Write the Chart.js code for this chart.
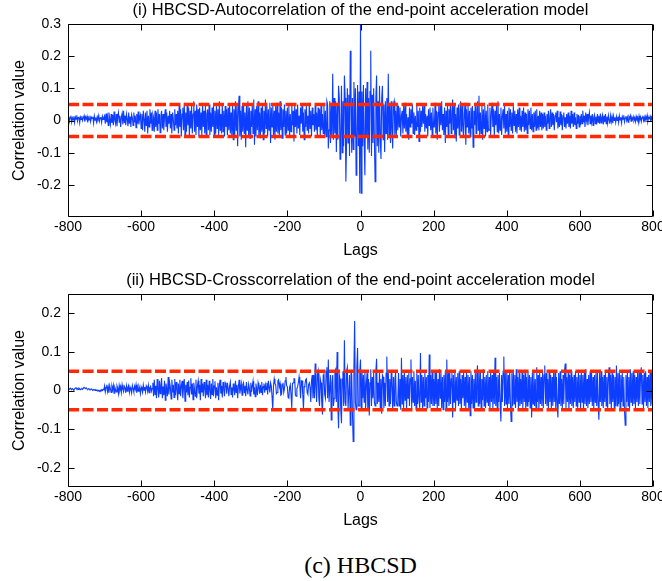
<!DOCTYPE html>
<html><head><meta charset="utf-8">
<script src="https://cdn.jsdelivr.net/npm/chart.js@4/dist/chart.umd.min.js"></script>
<style>
html,body{margin:0;padding:0;background:#fff;}
#wrap{position:relative;width:662px;height:581px;overflow:hidden;background:#fff;}
canvas{position:absolute;left:0;}
#c1{top:0}
#c2{top:270px}
#cap{position:absolute;left:68px;width:585px;top:550px;text-align:center;font-family:'Liberation Serif','Times New Roman',serif;font-size:24px;line-height:30px;color:#000;}
</style></head><body>
<div id="wrap">
<canvas id="c1" width="662" height="262"></canvas>
<canvas id="c2" width="662" height="262"></canvas>
<div id="cap">(c) HBCSD</div>
</div>
<script>
// ---- lags every 2 samples, -800..800 ----
const lags = [];
for (let l = -800; l <= 800; l += 2) lags.push(l);

// (i) autocorrelation
const autoCorr = [
// -800..-702
.006,.012,-.003,.01,.015,-.005,.008,.002,.013,-.006,
.011,.004,.016,-.002,.009,.012,-.007,.01,.003,.014,
0,.008,.015,-.004,.011,.005,.013,-.006,.009,.002,
.015,-.003,.01,.006,.012,-.008,.014,.001,.009,-.004,
.012,.005,.016,-.002,.008,.011,-.006,.013,.003,.01,
// -700..-602
.015,-.01,.022,-.005,.012,-.015,.025,.005,-.012,.02,
-.008,.018,-.015,.028,.002,-.01,.02,-.018,.012,.025,
-.005,.015,-.02,.01,.022,-.012,.03,-.008,.015,-.015,
.02,.005,-.018,.025,-.01,.012,-.02,.018,.008,-.015,
.025,-.005,.015,-.022,.02,-.01,.028,-.012,.01,.018,
// -600..-502
-.025,.02,-.03,.03,.005,-.035,.025,-.015,.03,-.04,
.015,-.02,.035,-.01,.025,-.03,.02,.01,-.035,.03,
-.02,.025,-.03,.035,-.01,.02,-.038,.015,.03,-.025,
.02,-.03,.01,.035,-.02,.025,-.035,.015,-.01,.03,
-.025,.02,-.04,.025,.005,-.03,.035,-.015,.02,-.025,
// -500..-352
.03,-.04,.045,-.02,.035,-.05,.02,.04,-.03,.055,
-.045,.025,-.035,.05,-.015,.04,-.05,.03,-.025,.045,
-.04,.02,.06,-.035,.03,-.045,.05,-.02,.035,-.05,
.04,-.03,.025,-.045,.055,-.02,.03,-.04,.045,-.05,
.02,.035,-.03,.05,-.045,.025,-.035,.04,-.02,.05,
-.05,.03,-.04,.045,-.025,.035,-.045,.06,-.03,.02,
-.04,.05,-.035,.03,-.05,.045,-.02,.035,-.045,.04,
-.03,.05,-.04,.025,-.045,
// -350..-202
.05,-.06,.035,-.045,.06,-.03,.05,-.08,.04,.077,
-.05,.03,-.06,.045,-.035,.055,-.04,.025,-.083,.05,
-.03,.06,-.045,.04,-.055,.03,-.02,.05,-.04,.065,
-.075,.035,-.05,.045,-.03,.06,-.045,.025,-.055,.04,
-.035,.05,-.06,.03,-.04,.065,-.025,.045,-.05,.035,
-.03,.055,-.07,.04,-.02,.05,-.045,.03,-.06,.045,
-.035,.055,-.04,.025,-.05,.06,-.03,.04,-.055,.035,
-.02,.05,-.045,.03,-.04,
// -200..-102
.04,-.03,.045,-.05,.02,-.035,.05,-.015,.03,-.065,
.045,-.02,.035,-.04,.05,-.025,.015,-.045,.04,-.01,
.05,-.035,.025,-.06,.035,-.02,.045,-.03,.015,-.04,
.055,-.025,.03,-.05,.04,-.015,.02,-.035,.045,-.03,
.025,-.05,.04,-.02,.035,-.045,.05,-.03,.02,-.04,
// -100..-2
.05,-.045,.03,-.05,.06,.05,-.087,-.03,.06,-.07,
.05,-.05,.145,-.06,.07,-.04,.06,-.098,.05,-.06,
.108,.07,-.12,-.05,.108,-.1,.06,-.08,.14,.07,
-.19,-.06,.1,-.07,.08,-.11,.217,.09,-.1,.07,
-.09,.12,-.05,.1,-.17,-.06,.11,-.08,.09,-.226,
// 0
.30,
// 2..100
-.226,.09,-.08,.11,-.06,-.17,.1,-.05,.12,-.09,
.07,-.1,.09,.217,-.11,.08,-.07,.1,-.06,-.19,
.07,.14,-.08,.06,-.1,.108,-.05,-.12,.07,.108,
-.06,.05,-.098,.06,-.04,.07,-.06,.145,-.05,.05,
-.07,.06,-.03,-.087,.05,.06,-.05,.03,-.045,.05,
// 102..200
-.03,.045,-.02,.04,-.05,.015,.03,-.04,.045,-.025,
.055,-.035,.02,-.045,.01,-.06,.04,-.02,.035,-.01,
.05,-.04,.025,-.045,.015,-.03,.048,-.02,.03,-.065,
.04,-.035,.03,-.02,.05,-.01,.045,-.035,.02,-.025,
.015,-.05,.035,-.015,.04,-.03,.025,-.045,.04,-.02,
// 202..350
-.02,.055,-.04,.03,-.06,.025,.045,-.035,.05,-.015,
.06,-.03,.02,-.045,.04,-.07,.03,-.02,.045,-.05,
.035,-.01,.05,-.04,.025,.065,-.03,.045,-.055,.02,
-.065,.04,-.025,.05,-.045,.03,.06,-.035,.045,-.03,
-.05,.02,.055,-.075,.035,-.02,.05,-.04,.03,-.05,
.04,-.025,.045,-.083,.03,-.015,.055,-.04,.035,.06,
-.03,.077,-.045,.025,-.04,.05,-.06,.035,-.025,.045,
-.05,.03,-.035,.05,-.03,
// 352..500
-.03,.04,-.045,.025,.055,-.02,.035,-.05,.03,-.015,
.045,-.035,.06,-.04,.02,-.03,.04,-.045,.015,.035,
-.025,.045,-.04,.02,-.035,.03,-.045,.04,-.02,.035,
-.03,.025,-.04,.045,-.015,.03,-.035,.02,-.04,.035,
-.02,.04,-.03,.015,-.035,.03,-.02,.04,-.035,.025,
-.03,.02,-.04,.035,-.015,.03,-.025,.04,-.03,.02,
-.035,.025,-.02,.03,-.03,.035,-.025,.015,-.03,.03,
-.02,.025,-.03,.02,-.025,
// 502..600
.025,-.02,.015,-.03,.02,-.01,.03,-.025,.01,.035,
-.02,.025,-.015,.02,-.03,.015,.025,-.005,.03,-.025,
.01,-.02,.028,-.015,.02,-.03,.015,.025,-.02,.01,
-.025,.02,-.01,.025,-.02,.015,-.025,.03,-.01,.02,
-.02,.025,-.015,.01,-.025,.02,-.01,.018,-.02,.015,
// 602..700
-.015,.02,-.01,.03,-.005,.015,-.02,.025,0,.02,
-.015,.01,.025,-.01,.015,-.005,.02,-.015,.01,.018,
-.01,.012,-.012,.02,-.005,.015,-.01,.022,-.008,.01,
.018,-.012,.015,-.005,.02,-.01,.012,-.008,.016,.002,
-.01,.015,-.004,.012,-.008,.014,0,.01,-.006,.012,
// 702..800
0,.012,-.006,.015,.002,.01,-.008,.012,.004,.016,
-.004,.008,.014,0,.01,-.005,.012,.006,.015,-.002,
.009,.003,.012,0,.008,-.004,.013,.005,.01,-.006,
.014,.002,.011,-.003,.009,.015,0,.01,-.005,.012,
.004,.016,-.002,.009,.006,.013,-.004,.01,.003,.008
];

// (ii) cross-correlation
const crossCorr = [
// -800..-702
.004,.005,.003,.006,.004,.002,.005,.003,.001,.004,
.006,.007,.004,.005,.003,.006,.004,.002,.004,.005,
.003,.006,.008,.006,.005,.007,.004,.003,.005,.004,
.002,.003,.004,.002,.001,.003,.002,0,.002,.001,
-.001,.001,0,-.002,.001,-.001,.002,0,.003,.002,
// -700..-570
.012,-.004,.008,.015,-.002,.01,-.006,.013,.004,-.005,
.011,.002,.014,-.007,.009,.003,-.004,.012,.006,-.008,
.013,.001,.01,-.005,.015,.004,-.003,.011,.007,-.006,
.012,-.002,.009,.014,-.005,.008,.002,-.007,.013,.005,
-.004,.011,.003,.015,-.006,.009,-.002,.012,.006,-.008,
.01,.003,-.005,.014,.001,.009,-.004,.012,.007,-.003,
.013,-.006,.008,.011,-.002,.005,
// -568..-370
.02,-.015,.028,-.01,.012,-.02,.03,.005,-.018,.025,
-.008,.015,.032,-.02,.01,-.012,.025,-.025,.018,.005,
-.015,.035,-.01,.02,.008,-.022,.028,-.005,.015,-.018,
.03,-.012,.022,.004,-.025,.018,-.008,.028,-.015,.012,
.025,-.02,.01,.03,-.028,.015,-.005,.022,-.012,.026,
-.018,.008,.032,-.01,.018,-.024,.02,.004,-.015,.028,
-.02,.012,.025,-.008,.015,-.025,.03,-.005,.018,-.015,
.022,.006,-.02,.028,-.012,.015,-.018,.025,.002,-.022,
.018,-.01,.03,-.015,.012,.024,-.02,.008,-.012,.02,
-.025,.015,.028,-.008,.012,-.018,.022,.005,-.015,.02,
// -368..-258
.015,-.008,.02,.005,-.015,.012,.022,-.01,.008,-.018,
.018,.004,-.012,.025,-.005,.015,-.02,.01,.028,-.008,
.005,.018,-.012,.015,.02,-.006,.012,-.015,.022,.002,
-.01,.016,.006,-.014,.02,-.004,.012,.024,-.01,.008,
-.016,.018,.004,-.012,.02,.01,-.008,.015,-.005,.022,
-.012,.01,.018,-.006,.014,.002,
// -256..-130
.02,-.01,.025,.008,-.005,.02,.012,-.015,-.05,.01,
.03,.018,.015,-.008,-.005,.025,.028,.01,.018,-.012,
-.01,.015,.02,-.005,.005,.025,.035,.012,.01,-.018,
-.02,.008,.015,-.01,-.045,.018,.02,.03,.03,-.012,
-.015,.005,.01,.02,.035,.015,-.02,.025,.025,-.01,
-.048,.01,.015,.028,.03,-.005,-.01,.015,.02,.008,
-.03,.025,.04,-.02,
// -128..-2
.04,-.02,.07,.01,-.03,.04,.05,-.02,-.04,.03,
.02,-.03,-.062,.04,.045,-.01,-.02,.05,.06,-.02,
.08,-.03,-.03,.04,-.076,.02,.04,-.04,-.02,.05,
.055,-.03,.1,-.04,-.098,.04,.03,-.05,-.085,.03,
.05,-.04,.13,-.03,-.04,.05,.06,-.05,-.05,.04,
-.09,.05,.04,-.06,-.132,.06,.18,-.03,-.05,.06,
.11,-.04,-.04,.05,
// 0..100
.08,-.045,.05,-.02,.04,-.03,.05,-.05,.02,.045,
-.05,.03,-.065,.02,.055,-.04,.035,-.02,.045,-.03,
-.04,.05,.082,-.035,.02,-.03,.05,-.045,.03,-.06,
.04,.035,-.045,.02,-.04,.045,.088,-.03,.05,-.04,
.03,-.035,.045,.02,-.05,.035,-.04,.03,.045,-.03,
-.04,
// 102..200
-.03,.045,-.04,.03,-.05,.085,-.035,.04,-.045,.05,
-.025,.035,-.05,.04,-.02,.045,-.04,.03,.08,-.045,
.035,-.03,.05,-.04,.025,-.05,.045,-.035,.04,-.025,
-.045,.097,-.03,.04,-.05,.035,-.04,.05,-.02,.035,
-.045,.04,-.03,.093,-.045,.04,-.035,.05,-.04,.03,
// 202..300
-.04,.05,-.035,.045,-.05,.03,-.04,.055,-.02,.045,
-.045,.035,-.05,.04,-.03,.05,-.045,.08,-.03,.045,
-.04,.05,-.035,.03,.045,-.07,.04,-.03,.05,-.045,
.035,-.025,.045,-.04,.05,-.035,.03,-.05,.04,-.02,
.045,-.04,.035,-.05,.05,-.03,.04,-.045,.035,-.065,
// 302..400
.05,-.035,.04,-.045,.03,-.05,.045,-.03,.04,.065,
-.04,.05,-.035,.045,-.05,.03,-.025,.055,-.04,.035,
-.045,.04,-.03,.05,-.04,.035,-.05,.045,-.03,.04,
-.045,.05,-.035,.085,-.04,.035,-.05,.04,-.03,.045,
-.035,-.08,.04,-.03,.05,.088,-.04,.045,-.035,.05,
// 402..500
-.045,.04,-.035,.05,-.03,-.08,.045,-.04,.05,-.035,
.04,-.045,.055,-.03,.035,-.05,.045,-.04,.03,-.035,
.05,-.045,.04,-.03,.045,-.05,.035,-.04,.05,-.03,
.04,-.045,.035,-.07,.045,-.035,.05,-.04,.03,-.045,
.06,-.03,.04,-.05,.045,-.035,.035,-.04,.05,-.045,
// 502..600
.04,.065,-.035,.045,-.04,.03,-.05,.05,-.03,.04,
-.045,.035,-.04,.045,-.03,.05,-.045,.035,-.04,-.07,
.045,-.035,.05,-.04,.03,-.045,.04,-.035,.05,.07,
-.045,.035,-.03,.045,-.05,.04,-.035,.05,-.04,.035,
-.045,.04,-.03,.05,-.04,.035,-.045,.045,-.03,.04,
// 602..700
-.045,.05,-.03,.04,-.05,.045,-.035,.055,-.04,.03,
-.045,.04,-.035,.05,-.03,.045,-.04,.035,-.05,.04,
-.03,.045,-.04,.05,-.035,-.076,.045,-.03,.05,-.04,
.035,-.045,.04,-.03,.05,-.04,.035,-.045,.04,.06,
-.035,.04,-.05,.045,-.03,.04,-.045,.035,-.04,.065,
// 702..800
-.04,.045,-.035,.05,-.045,.04,-.03,.045,-.04,.035,
-.05,-.09,.04,-.03,.05,-.04,.035,-.045,.055,-.03,
.045,-.04,.05,-.035,.04,-.045,.035,-.03,.05,-.04,
.045,-.035,.04,.06,-.035,.04,-.05,.045,-.03,.05,
-.04,.035,-.045,.04,-.03,.05,-.04,.045,-.035,.035
];

// confidence bounds (red dashed)
const boundLags  = [-800, 800];
const boundUpper = [0.05, 0.05];
const boundLower = [-0.05, -0.05];

// tick values
const xTicks = [-800, -600, -400, -200, 0, 200, 400, 600, 800];
const yTicksTop = [-0.2, -0.1, 0, 0.1, 0.2, 0.3];
const yTicksBottom = [-0.2, -0.1, 0, 0.1, 0.2];

if (autoCorr.length !== lags.length || crossCorr.length !== lags.length) {
  throw new Error('length mismatch: lags ' + lags.length + ' auto ' + autoCorr.length + ' cross ' + crossCorr.length);
}

const BLUE = '#0d3dff';
const RED = '#ff2a05';

Chart.defaults.font.family = "'Liberation Sans', Arial, Helvetica, sans-serif";
Chart.defaults.color = '#000';

const framePlugin = {
  id: 'frame',
  afterDraw(chart) {
    const {ctx, chartArea: a, scales: {x, y}} = chart;
    ctx.save();
    ctx.strokeStyle = '#000';
    ctx.lineWidth = 1;
    const L = Math.round(a.left) + 0.5, R = Math.round(a.right) - 0.5;
    const T = Math.round(a.top) + 0.5, B = Math.round(a.bottom) - 0.5;
    ctx.beginPath();
    ctx.rect(L, T, R - L, B - T);
    x.ticks.forEach(t => {
      const px = Math.round(x.getPixelForValue(t.value)) + 0.5;
      ctx.moveTo(px, B); ctx.lineTo(px, B - 6);
      ctx.moveTo(px, T); ctx.lineTo(px, T + 6);
    });
    y.ticks.forEach(t => {
      const py = Math.round(y.getPixelForValue(t.value)) + 0.5;
      ctx.moveTo(L, py); ctx.lineTo(L + 6, py);
      ctx.moveTo(R, py); ctx.lineTo(R - 6, py);
    });
    ctx.stroke();
    ctx.restore();
  }
};

function fmt(v) {
  const r = Math.round(v * 10) / 10;
  return r === 0 ? '0' : String(r);
}

function makeChart(id, title, values, yMin, yMax, yTicks) {
  return new Chart(document.getElementById(id), {
    type: 'line',
    data: {
      datasets: [
        {data: boundLags.map((x, i) => ({x, y: boundUpper[i]})), borderColor: RED, borderWidth: 3.5, borderDash: [11, 3.5], pointRadius: 0, order: 0, fill: false},
        {data: boundLags.map((x, i) => ({x, y: boundLower[i]})), borderColor: RED, borderWidth: 3.5, borderDash: [11, 3.5], pointRadius: 0, order: 0, fill: false},
        {data: lags.map((x, i) => ({x, y: values[i]})), borderColor: BLUE, borderWidth: 1.1, pointRadius: 0, tension: 0, order: 1, fill: false}
      ]
    },
    options: {
      responsive: false, animation: false, devicePixelRatio: 1,
      events: [],
      layout: {padding: {left: 0, right: 9, top: 0, bottom: 0}},
      plugins: {
        legend: {display: false},
        tooltip: {enabled: false},
        title: {display: true, fullSize: false, text: title, color: '#000', font: {size: 16.5, weight: 'normal'}, padding: {top: 1, bottom: 3.2}}
      },
      scales: {
        x: {
          type: 'linear', min: -800, max: 800,
          grid: {display: false, drawTicks: false}, border: {display: false},
          afterBuildTicks: s => { s.ticks = xTicks.map(v => ({value: v})); },
          afterFit: s => { s.height = 45; s.paddingLeft = 0; s.paddingRight = 0; },
          ticks: {color: '#000', font: {size: 14}, padding: 2, maxRotation: 0, autoSkip: false, callback: v => String(v)},
          title: {display: true, text: 'Lags', color: '#000', font: {size: 16}, padding: {top: 0, bottom: 2}}
        },
        y: {
          type: 'linear', min: yMin, max: yMax,
          grid: {display: false, drawTicks: false}, border: {display: false},
          afterBuildTicks: s => { s.ticks = yTicks.map(v => ({value: v})); },
          afterFit: s => { s.width = 68; s.paddingTop = 0; s.paddingBottom = 0; },
          ticks: {color: '#000', font: {size: 14}, padding: 7, autoSkip: false, callback: v => fmt(v)},
          title: {display: true, text: 'Correlation value', color: '#000', font: {size: 16}, padding: {top: 10, bottom: 0}}
        }
      }
    },
    plugins: [framePlugin]
  });
}

makeChart('c1', '(i) HBCSD-Autocorrelation of the end-point acceleration model', autoCorr, -0.3, 0.3, yTicksTop);
makeChart('c2', '(ii) HBCSD-Crosscorrelation of the end-point acceleration model', crossCorr, -0.25, 0.25, yTicksBottom);
</script>
</body></html>
